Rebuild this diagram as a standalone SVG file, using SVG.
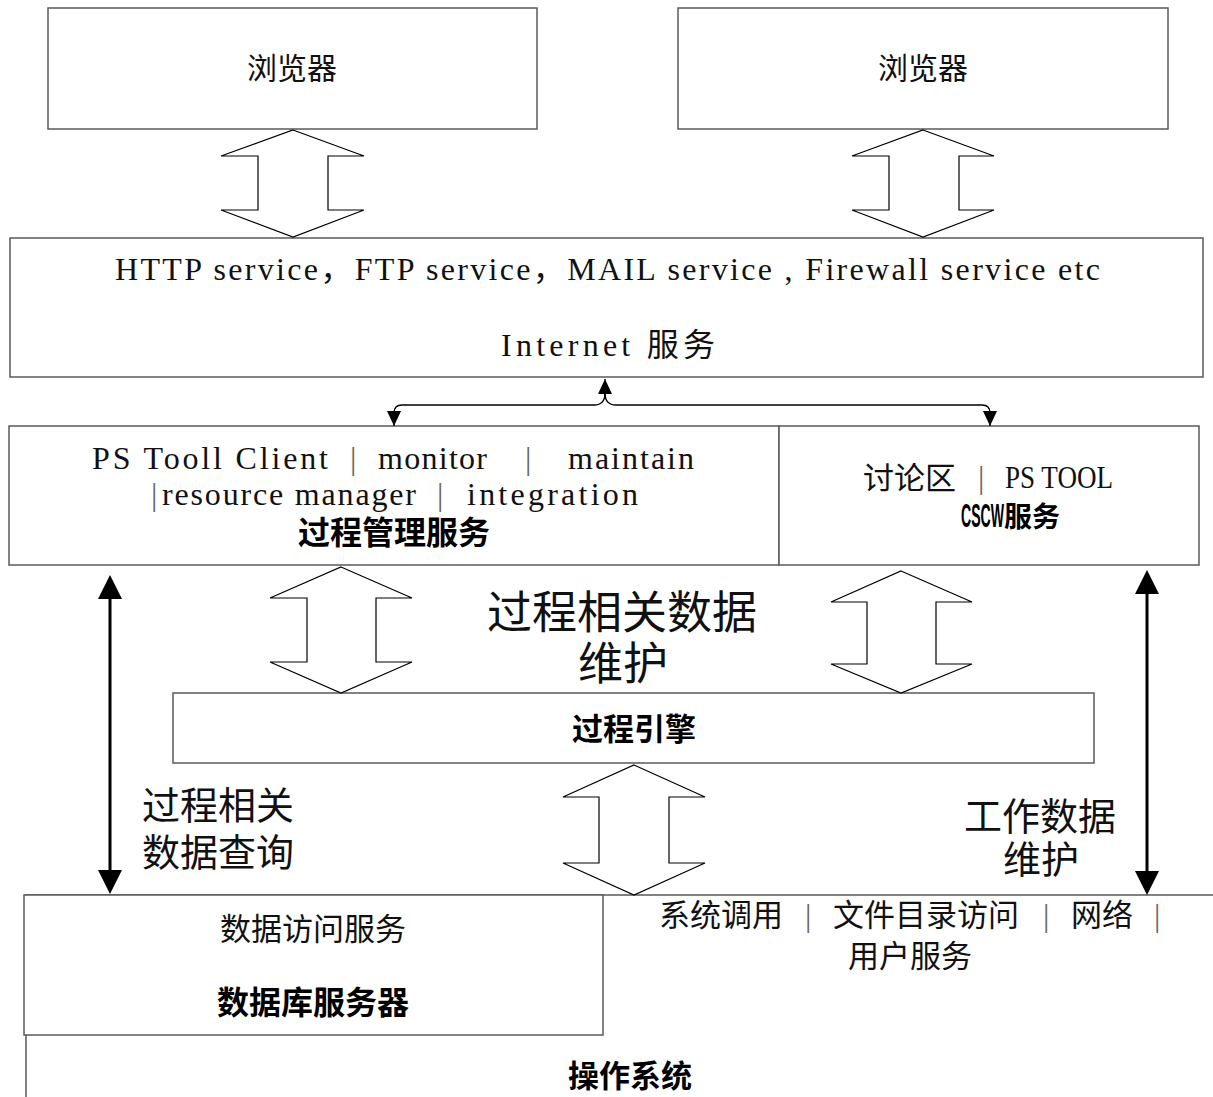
<svg xmlns="http://www.w3.org/2000/svg" width="1213" height="1097" viewBox="0 0 1213 1097">
  <style>
    .box { fill: #fff; stroke: #5a5a5a; stroke-width: 1.5; }
    .blk { fill: #fff; stroke: #000; stroke-width: 1.2; stroke-linejoin: miter; }
    .lat { font-family: "Liberation Serif", "Noto Sans CJK SC", serif; font-size: 32px; fill: #111; }
    .cjk { font-family: "Noto Sans CJK SC", "Liberation Sans", sans-serif; fill: #111; }
    .bold { font-family: "Noto Sans CJK SC", "Liberation Sans", sans-serif; font-weight: bold; fill: #000; }
    .bar { font-family: "Liberation Serif", serif; font-size: 32px; fill: #666; }
    .wire { fill: none; stroke: #000; stroke-width: 1.3; }
    .thick { stroke: #000; stroke-width: 3; }
    .head { fill: #000; }
  </style>
  <defs>
    <marker id="tip" viewBox="0 0 15 14" markerWidth="15" markerHeight="14" refX="15" refY="7" orient="auto" markerUnits="userSpaceOnUse">
      <path d="M0,0 L15,7 L0,14 z" fill="#000"/>
    </marker>
  </defs>

  <!-- operating system layer (drawn first, database server sits on top) -->
  <g id="os">
    <rect class="box" x="26" y="895" width="1210" height="230"/>
    <text class="bold" x="630" y="1087" font-size="31" text-anchor="middle">操作系统</text>
    <text class="cjk" x="659" y="926" font-size="31">系统调用</text>
    <text class="bar" x="805" y="926">|</text>
    <text class="cjk" x="833" y="926" font-size="31">文件目录访问</text>
    <text class="bar" x="1043" y="926">|</text>
    <text class="cjk" x="1071" y="926" font-size="31">网络</text>
    <text class="bar" x="1154" y="926">|</text>
    <text class="cjk" x="910" y="967" font-size="31" text-anchor="middle">用户服务</text>
  </g>

  <g id="browser-1">
    <rect class="box" x="48" y="8" width="489" height="121"/>
    <text class="cjk" x="292" y="79" font-size="30" text-anchor="middle">浏览器</text>
  </g>
  <g id="browser-2">
    <rect class="box" x="678" y="8" width="490" height="121"/>
    <text class="cjk" x="923" y="79" font-size="30" text-anchor="middle">浏览器</text>
  </g>

  <g id="internet">
    <rect class="box" x="10" y="238" width="1193" height="139"/>
    <text class="lat" x="115" y="280" textLength="985">HTTP service，FTP service，MAIL service , Firewall service etc</text>
    <text class="lat" x="501" y="356" textLength="214" fill="#000">Internet 服务</text>
  </g>

  <g id="process-mgmt">
    <rect class="box" x="9" y="426" width="770" height="139"/>
    <text class="lat" x="92" y="469" textLength="236">PS Tooll Client</text>
    <text class="bar" x="350" y="469">|</text>
    <text class="lat" x="378" y="469" textLength="109">monitor</text>
    <text class="bar" x="525" y="469">|</text>
    <text class="lat" x="568" y="469" textLength="126">maintain</text>
    <text class="bar" x="151" y="505">|</text>
    <text class="lat" x="162" y="505" textLength="254">resource manager</text>
    <text class="bar" x="437" y="505">|</text>
    <text class="lat" x="467" y="505" textLength="171">integration</text>
    <text class="bold" x="394" y="544" font-size="32" text-anchor="middle">过程管理服务</text>
  </g>

  <g id="cscw">
    <rect class="box" x="779" y="426" width="420" height="139"/>
    <text class="cjk" x="863" y="489" font-size="31">讨论区</text>
    <text class="bar" x="978" y="488">|</text>
    <text class="lat" x="1005" y="488" textLength="108" lengthAdjust="spacingAndGlyphs">PS TOOL</text>
    <text class="bold" y="527" font-size="28">
      <tspan x="961" font-family="Liberation Sans, sans-serif" font-size="33" textLength="43" lengthAdjust="spacingAndGlyphs">CSCW</tspan><tspan x="1004">服务</tspan>
    </text>
  </g>

  <g id="engine">
    <rect class="box" x="173" y="693" width="921" height="70"/>
    <text class="bold" x="634" y="740" font-size="31" text-anchor="middle">过程引擎</text>
  </g>

  <g id="db-server">
    <rect class="box" x="24" y="895" width="579" height="140"/>
    <text class="cjk" x="313" y="940" font-size="31" text-anchor="middle">数据访问服务</text>
    <text class="bold" x="313" y="1014" font-size="32" text-anchor="middle">数据库服务器</text>
  </g>

  <!-- free labels -->
  <g id="labels">
    <text class="cjk" x="622" y="629" font-size="45" text-anchor="middle">过程相关数据</text>
    <text class="cjk" x="623" y="680" font-size="45" text-anchor="middle">维护</text>
    <text class="cjk" x="218" y="819" font-size="38" text-anchor="middle">过程相关</text>
    <text class="cjk" x="218" y="866" font-size="38" text-anchor="middle">数据查询</text>
    <text class="cjk" x="1040" y="830" font-size="38" text-anchor="middle">工作数据</text>
    <text class="cjk" x="1041" y="873" font-size="38" text-anchor="middle">维护</text>
  </g>

  <g id="connectors">
    <!-- hollow double block arrows -->
    <polygon class="blk" points="293,130 364,156 328,156 328,210 364,210 293,237 221,210 258,210 258,156 221,156"/>
    <polygon class="blk" points="923,130 994,156 959,156 959,210 994,210 923,237 852,210 889,210 889,156 852,156"/>
    <polygon class="blk" points="341,567 412,598 376,598 376,662 412,662 341,693 270,662 307,662 307,598 270,598"/>
    <polygon class="blk" points="901,571 972,602 936,602 936,664 972,664 901,693 831,664 867,664 867,602 831,602"/>
    <polygon class="blk" points="634,765 705,797 669,797 669,863 705,863 634,895 563,863 599,863 599,797 563,797"/>

    <!-- branching link between Internet services and the two service boxes -->
    <path class="wire" d="M605,397 L605,379" marker-end="url(#tip)"/>
    <path class="wire" d="M605,393 Q605,405 594,405 L402,405 Q394,405 394,413 L394,426" marker-end="url(#tip)"/>
    <path class="wire" d="M605,393 Q605,405 616,405 L982,405 Q990,405 990,413 L990,426" marker-end="url(#tip)"/>

    <!-- thick two-way arrows -->
    <line class="thick" x1="110" y1="590" x2="110" y2="880"/>
    <polygon class="head" points="110,575 122,599 98,599"/>
    <polygon class="head" points="110,894 122,870 98,870"/>
    <line class="thick" x1="1147" y1="585" x2="1147" y2="882"/>
    <polygon class="head" points="1147,570 1159,594 1135,594"/>
    <polygon class="head" points="1147,895 1159,871 1135,871"/>
  </g>
</svg>
